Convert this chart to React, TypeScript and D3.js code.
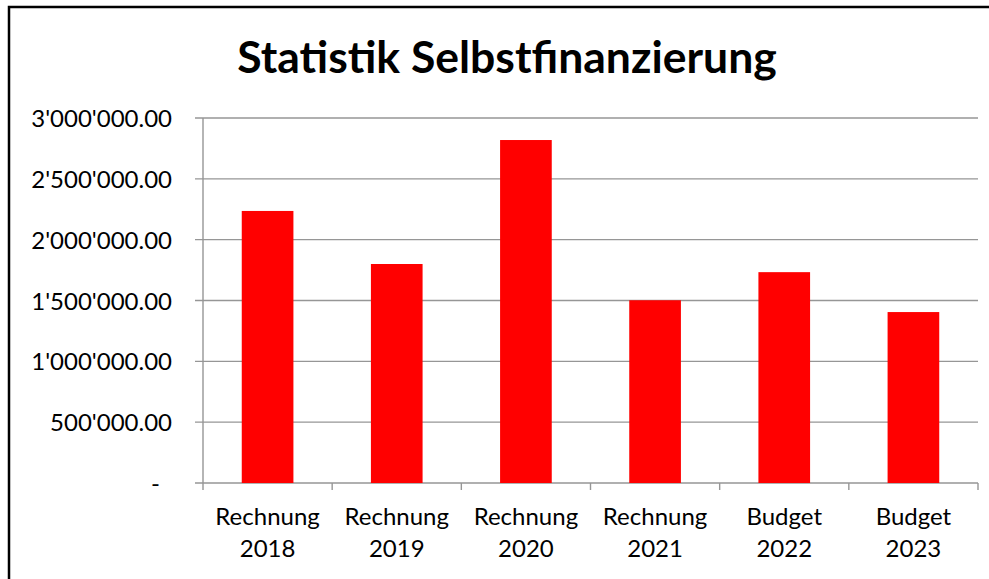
import { useEffect, useRef } from 'react'
import * as d3 from 'd3'

// Chart data
const categories = [
  'Rechnung 2018',
  'Rechnung 2019',
  'Rechnung 2020',
  'Rechnung 2021',
  'Budget 2022',
  'Budget 2023',
]
const values = [2236000, 1800000, 2819000, 1502000, 1733000, 1405000]
const yTicks = [0, 500000, 1000000, 1500000, 2000000, 2500000, 3000000]
const title = 'Statistik Selbstfinanzierung'

const WIDTH = 989
const HEIGHT = 579
const FONT = 'Lato, "Open Sans", sans-serif'

const formatValue = (v: number) =>
  v === 0 ? '-' : d3.format(',.2f')(v).replace(/,/g, "'")

const App = () => {
  const svgRef = useRef<SVGSVGElement | null>(null)

  useEffect(() => {
    const svg = d3.select(svgRef.current)
    svg.selectAll('*').remove()

    const plot = { left: 203, right: 978, top: 118, bottom: 483 }

    const xScale = d3
      .scaleBand<string>()
      .domain(categories)
      .range([plot.left, plot.right])
      .paddingInner(0.6)
      .paddingOuter(0.3)
    const step = xScale.step()
    const yScale = d3.scaleLinear().domain([0, 3000000]).range([plot.bottom, plot.top])

    // White background
    svg.append('rect').attr('width', WIDTH).attr('height', HEIGHT).attr('fill', '#fff')

    // Outer frame (only top and left edges are in view)
    svg
      .append('path')
      .attr('d', `M9,${HEIGHT + 2} L9,7 L${WIDTH + 2},7`)
      .attr('fill', 'none')
      .attr('stroke', '#000')
      .attr('stroke-width', 2.5)

    // Title
    svg
      .append('text')
      .attr('x', 507)
      .attr('y', 73)
      .attr('text-anchor', 'middle')
      .style('font-family', FONT)
      .style('font-weight', '700')
      .style('font-size', '44.5px')
      .attr('fill', '#000')
      .text(title)

    // Gridlines, starting at the y tick marks
    svg
      .append('g')
      .selectAll('line')
      .data(yTicks)
      .enter()
      .append('line')
      .attr('x1', plot.left - 8)
      .attr('x2', plot.right)
      .attr('y1', (d) => yScale(d))
      .attr('y2', (d) => yScale(d))
      .attr('stroke', '#969696')
      .attr('stroke-width', 1.4)

    // Y axis line
    svg
      .append('line')
      .attr('x1', plot.left)
      .attr('x2', plot.left)
      .attr('y1', plot.top)
      .attr('y2', plot.bottom + 7)
      .attr('stroke', '#969696')
      .attr('stroke-width', 1.4)

    // X axis ticks at category boundaries
    const boundaries = d3.range(1, categories.length + 1).map((i) => plot.left + i * step)
    svg
      .append('g')
      .selectAll('line')
      .data(boundaries)
      .enter()
      .append('line')
      .attr('x1', (d) => d)
      .attr('x2', (d) => d)
      .attr('y1', plot.bottom)
      .attr('y2', plot.bottom + 7)
      .attr('stroke', '#969696')
      .attr('stroke-width', 1.4)

    // Y labels (accounting style: the dash for zero sits a bit left)
    svg
      .append('g')
      .selectAll('text')
      .data(yTicks)
      .enter()
      .append('text')
      .attr('x', (d) => (d === 0 ? 160 : 172))
      .attr('y', (d) => yScale(d) + 9)
      .attr('text-anchor', 'end')
      .style('font-family', FONT)
      .style('font-size', '24px')
      .attr('fill', '#000')
      .text((d) => formatValue(d))

    // Bars
    svg
      .append('g')
      .selectAll('rect')
      .data(values)
      .enter()
      .append('rect')
      .attr('x', (_d, i) => xScale(categories[i]) as number)
      .attr('width', xScale.bandwidth())
      .attr('y', (d) => yScale(d))
      .attr('height', (d) => yScale(0) - yScale(d))
      .attr('fill', '#ff0000')

    // X labels (two lines)
    const xLabels = svg
      .append('g')
      .selectAll('text')
      .data(categories)
      .enter()
      .append('text')
      .attr('text-anchor', 'middle')
      .style('font-family', FONT)
      .style('font-size', '24px')
      .attr('fill', '#000')
    xLabels
      .append('tspan')
      .attr('x', (d) => (xScale(d) as number) + xScale.bandwidth() / 2)
      .attr('y', 525)
      .text((d) => d.split(' ')[0])
    xLabels
      .append('tspan')
      .attr('x', (d) => (xScale(d) as number) + xScale.bandwidth() / 2)
      .attr('y', 557)
      .text((d) => d.split(' ')[1])
  }, [])

  return (
    <svg
      ref={svgRef}
      width={WIDTH}
      height={HEIGHT}
      style={{ position: 'absolute', left: 0, top: 0 }}
    />
  )
}

export default App
